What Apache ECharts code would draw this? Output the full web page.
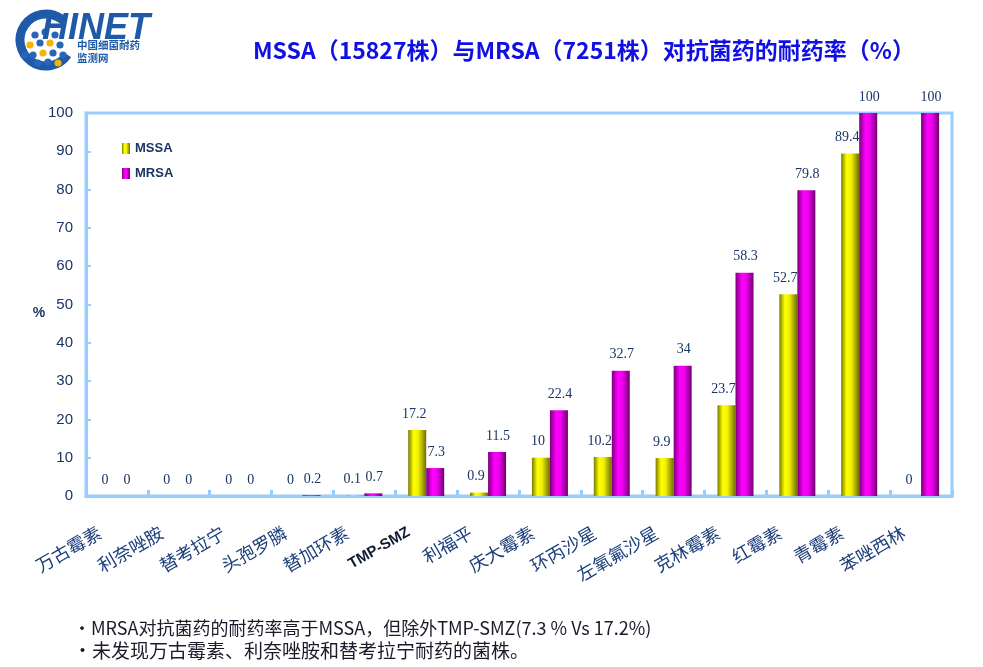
<!DOCTYPE html>
<html>
<head>
<meta charset="utf-8">
<script src="https://cdn.jsdelivr.net/npm/echarts@6/dist/echarts.min.js"></script>
<style>html,body{margin:0;padding:0;background:#fff;}#c{width:983px;height:667px;}</style>
</head>
<body>
<div id="c"></div>
<script>
var categories = ['万古霉素','利奈唑胺','替考拉宁','头孢罗膦','替加环素','TMP-SMZ','利福平','庆大霉素','环丙沙星','左氧氟沙星','克林霉素','红霉素','青霉素','苯唑西林'];
var mssaValues = [0,0,0,0,0.1,17.2,0.9,10,10.2,9.9,23.7,52.7,89.4,0];
var mrsaValues = [0,0,0,0.2,0.7,7.3,11.5,22.4,32.7,34,58.3,79.8,100,100];
var seriesNames = ['MSSA','MRSA'];
var titleText = 'MSSA（15827株）与MRSA（7251株）对抗菌药的耐药率（%）';
var yAxisName = '%';
var note1 = '•MRSA对抗菌药的耐药率高于MSSA，但除外TMP-SMZ(7.3 % Vs 17.2%)';
var note2 = '•未发现万古霉素、利奈唑胺和替考拉宁耐药的菌株。';

var chart = echarts.init(document.getElementById('c'), null, {renderer:'canvas'});
var axisBlue = '#99ccff';
var navy = '#1b3563';
var yellowGrad = new echarts.graphic.LinearGradient(0,0,1,0,[
  {offset:0,color:'#7a7a00'},{offset:0.3,color:'#ffff00'},{offset:0.55,color:'#f2f200'},{offset:1,color:'#6e6e00'}]);
var magentaGrad = new echarts.graphic.LinearGradient(0,0,1,0,[
  {offset:0,color:'#7a007a'},{offset:0.35,color:'#ff00ff'},{offset:0.6,color:'#ee00ee'},{offset:1,color:'#700070'}]);

function labelStyle(dx){
  return {show:true, position:'top', distance:9, offset:[dx,0], color:navy, fontFamily:'Liberation Serif', fontSize:14};
}

// logo (decoration)
var logoParts = [
  {type:'arc', shape:{cx:46, cy:40, r:26, startAngle:0.6, endAngle:Math.PI*2-0.8, clockwise:true}, style:{stroke:'#1e5aa8', lineWidth:9, fill:null}}
];
var dotPos = [[30,30,0],[40,27,0],[50,30,0],[25,40,1],[35,38,0],[45,38,1],[55,40,0],[28,50,0],[38,48,1],[48,48,0],[58,50,0],[33,58,0],[43,57,0],[53,58,1],[20,50,0]];
dotPos.forEach(function(p){
  logoParts.push({type:'circle', shape:{cx:p[0]+5, cy:p[1]+5, r:3.6}, style:{fill:p[2]?'#f4b400':'#2a66b8'}});
});
logoParts.push(
  {type:'text', x:42, y:11, style:{text:'HINET', fontFamily:'Liberation Sans', fontStyle:'italic', fontWeight:'bold', fontSize:36, fill:'#1e5aa8', verticalAlign:'top'}},
  {type:'text', x:77, y:40, style:{text:'中国细菌耐药', fontFamily:'Noto Sans CJK SC', fontWeight:'bold', fontSize:10.5, fill:'#1e5aa8', verticalAlign:'top'}},
  {type:'text', x:77, y:53, style:{text:'监测网', fontFamily:'Noto Sans CJK SC', fontWeight:'bold', fontSize:10.5, fill:'#1e5aa8', verticalAlign:'top'}}
);

chart.setOption({
  backgroundColor:'#fff',
  animation:false,
  title:{text:titleText, left:248, top:34, textStyle:{fontFamily:'Noto Sans CJK SC', fontSize:23, fontWeight:'bold', color:'#1010e6'}},
  legend:{data:seriesNames, orient:'vertical', left:117, top:137, itemWidth:8, itemHeight:11, itemGap:12, icon:'rect',
    textStyle:{fontFamily:'Liberation Sans', fontWeight:'bold', fontSize:13, color:navy}},
  grid:{left:86, right:31, top:113, bottom:171, show:true, borderColor:axisBlue, borderWidth:3, backgroundColor:'transparent'},
  xAxis:{type:'category', data:categories,
    axisLine:{lineStyle:{color:axisBlue, width:3}},
    axisTick:{show:true, inside:true, length:6, lineStyle:{color:axisBlue, width:3}},
    axisLabel:{interval:0, rotate:30, margin:25, padding:[0,20,0,0], fontFamily:'Noto Sans CJK SC', fontSize:18, color:'#1c3f7a',
      formatter:function(v){ return v==='TMP-SMZ' ? '{b|'+v+'}' : v; },
      rich:{b:{fontFamily:'Liberation Sans', fontWeight:'bold', fontSize:15, color:'#0d1a33'}}}
  },
  yAxis:{type:'value', min:0, max:100, interval:10,
    axisLine:{show:true, lineStyle:{color:axisBlue, width:3}},
    axisTick:{show:true, inside:true, length:5, lineStyle:{color:axisBlue, width:2}},
    splitLine:{show:false},
    axisLabel:{margin:13, fontFamily:'Liberation Sans', fontSize:15, color:navy}
  },
  series:[
    {name:seriesNames[0], type:'bar', data:mssaValues, barWidth:18, barGap:'0%', itemStyle:{color:yellowGrad}, label:labelStyle(-3)},
    {name:seriesNames[1], type:'bar', data:mrsaValues, barWidth:18, itemStyle:{color:magentaGrad}, label:labelStyle(1)}
  ],
  graphic:[
    {type:'group', x:0, y:0, children:logoParts},
    {type:'text', x:39, y:313, style:{text:yAxisName, fontFamily:'Liberation Sans', fontWeight:'bold', fontSize:14, fill:navy, align:'center', verticalAlign:'middle'}},
    {type:'text', x:73, y:628, style:{text:note1, fontFamily:'Noto Sans CJK SC', fontSize:18, fill:'#1a1a2a', verticalAlign:'middle'}},
    {type:'text', x:73, y:651, style:{text:note2, fontFamily:'Noto Sans CJK SC', fontSize:19, fill:'#1a1a2a', verticalAlign:'middle'}}
  ]
});
</script>
</body>
</html>
